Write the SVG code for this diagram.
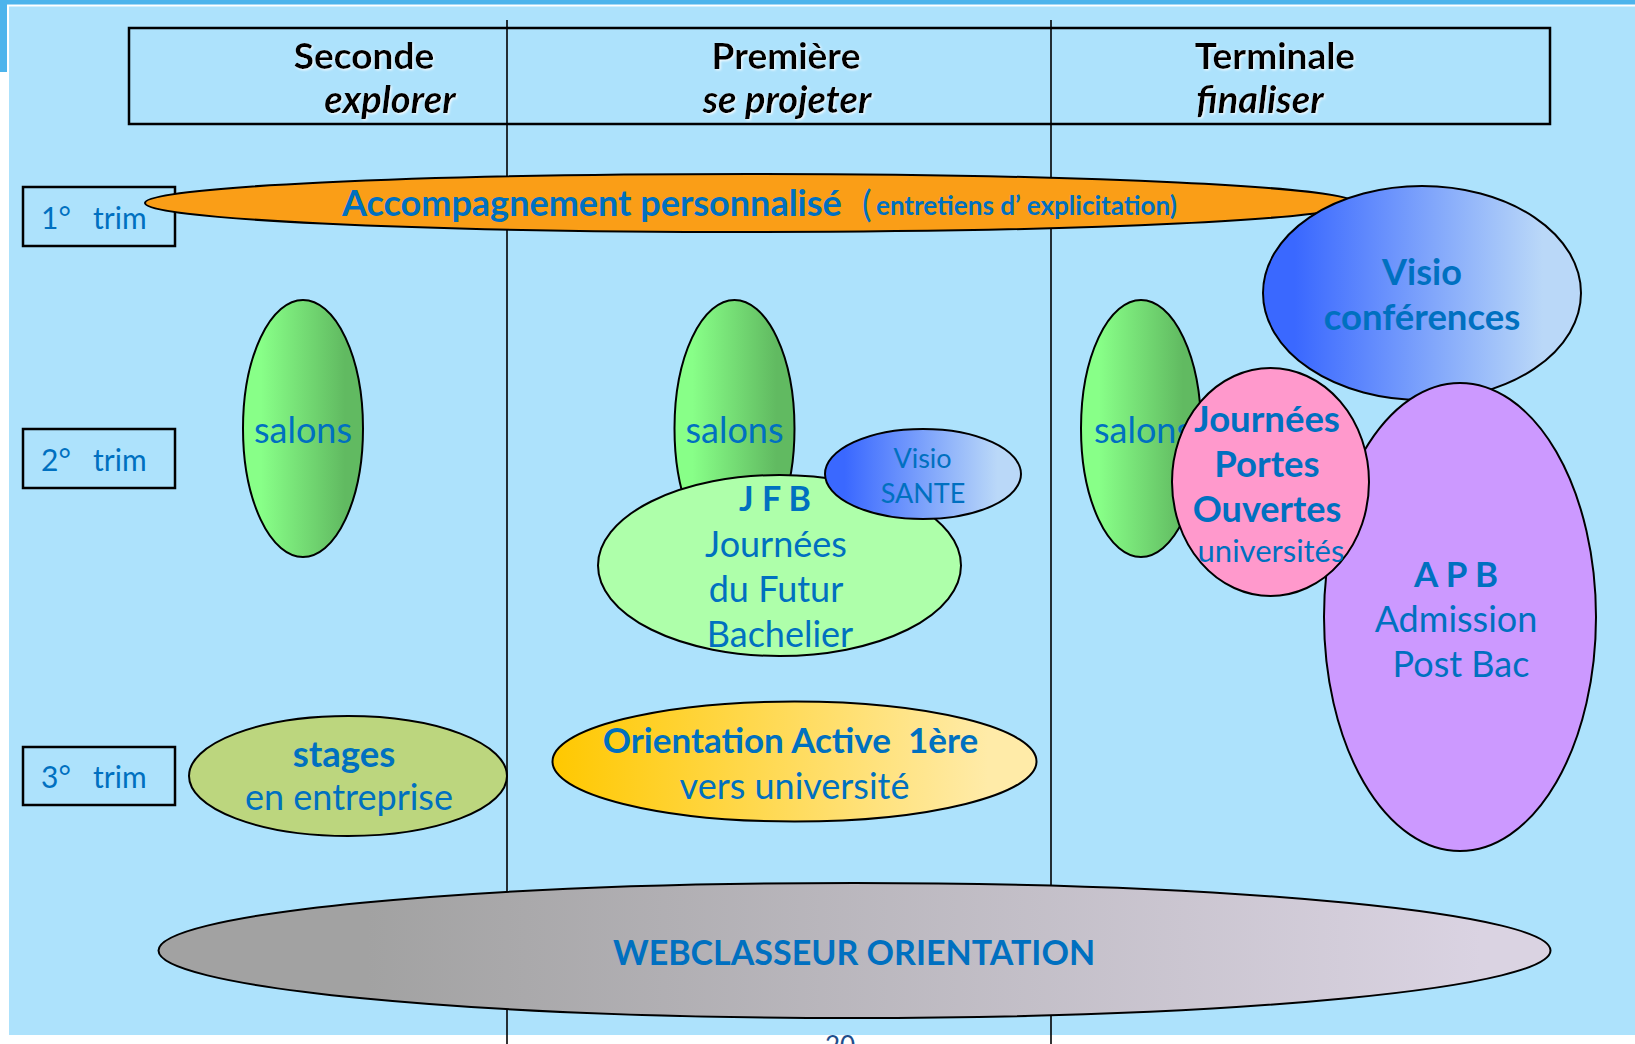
<svg xmlns="http://www.w3.org/2000/svg" width="1635" height="1044" viewBox="0 0 1635 1044">
  <defs>
    <linearGradient id="gSalon" x1="0" y1="0" x2="1" y2="0">
      <stop offset="0.15" stop-color="#88FF88"/>
      <stop offset="0.85" stop-color="#61BA61"/>
    </linearGradient>
    <linearGradient id="gVisio" x1="0" y1="0" x2="1" y2="0">
      <stop offset="0.1" stop-color="#3A68FF"/>
      <stop offset="0.88" stop-color="#BAD8F8"/>
    </linearGradient>
    <linearGradient id="gOrient" x1="0" y1="0" x2="1" y2="0">
      <stop offset="0" stop-color="#FFC800"/>
      <stop offset="0.9" stop-color="#FFEBA8"/>
    </linearGradient>
    <linearGradient id="gWeb" x1="0" y1="0" x2="1" y2="0">
      <stop offset="0.15" stop-color="#A2A2A2"/>
      <stop offset="0.95" stop-color="#DAD3E2"/>
    </linearGradient>
    <filter id="glow" x="-10%" y="-20%" width="120%" height="140%">
      <feDropShadow dx="1.2" dy="1.2" stdDeviation="0.8" flood-color="#FFFFFF" flood-opacity="0.9"/>
    </filter>
  </defs>
  <style>
    text { font-family: Lato, "Open Sans", "Liberation Sans", sans-serif; }
    .hd { font-weight: bold; font-size: 37px; fill: #000; text-anchor: middle; }
    .hdi { font-weight: bold; font-style: italic; font-size: 38px; fill: #000; text-anchor: middle; }
    .bl { fill: #0070C0; text-anchor: middle; }
    .b { font-weight: bold; }
    .trim { fill: #0070C0; font-size: 30px; }
    .box { fill: none; stroke: #000; stroke-width: 2.5; }
    .ell { stroke: #000; stroke-width: 2; }
    .grid { stroke: #000; stroke-width: 1.6; }
    .pre { white-space: pre; }
  </style>

  <g id="background">
    <rect x="0" y="0" width="1635" height="1044" fill="#FFFFFF"/>
    <rect x="0" y="0" width="1635" height="4.5" fill="#4DB4EC"/>
    <rect x="0" y="0" width="7" height="72" fill="#4DB4EC"/>
    <rect x="9" y="6.5" width="1626" height="1028.5" fill="#ADE2FC"/>
  </g>

  <g id="grid-lines">
    <line class="grid" x1="507" y1="20" x2="507" y2="1044"/>
    <line class="grid" x1="1051" y1="20" x2="1051" y2="1044"/>
  </g>

  <g id="header">
    <rect class="box" x="129" y="28" width="1421" height="96"/>
    <g filter="url(#glow)">
      <text class="hd" x="364" y="69">Seconde</text>
      <text class="hdi" x="390" y="113">explorer</text>
      <text class="hd" x="786" y="69">Première</text>
      <text class="hdi" x="787" y="113">se projeter</text>
      <text class="hd" x="1275" y="69">Terminale</text>
      <text class="hdi" x="1260" y="113">finaliser</text>
    </g>
  </g>

  <g id="trim1">
    <rect class="box" x="23" y="187" width="152" height="59"/>
    <text class="trim" y="229"><tspan x="41">1°</tspan> <tspan x="93">trim</tspan></text>
  </g>
  <g id="trim2">
    <rect class="box" x="23" y="429" width="152" height="59"/>
    <text class="trim" y="471"><tspan x="41">2°</tspan> <tspan x="93">trim</tspan></text>
  </g>
  <g id="trim3">
    <rect class="box" x="23" y="747" width="152" height="58"/>
    <text class="trim" y="788"><tspan x="41">3°</tspan> <tspan x="93">trim</tspan></text>
  </g>

  <g id="accompagnement">
    <ellipse class="ell" cx="750" cy="203" rx="605" ry="29" fill="#FA9E17"/>
    <text x="342" y="216" fill="#0070C0" font-weight="bold" font-size="36">Accompagnement personnalisé</text>
    <text x="862" y="217" fill="#0070C0" font-size="36">(</text>
    <text x="876" y="215" fill="#0070C0" font-weight="bold" font-size="26">entretiens d’ explicitation)</text>
  </g>

  <g id="salons-seconde">
    <ellipse class="ell" cx="303" cy="428.5" rx="60" ry="128.5" fill="url(#gSalon)"/>
    <text class="bl" x="303" y="443" font-size="36">salons</text>
  </g>

  <g id="salons-premiere">
    <ellipse class="ell" cx="734.5" cy="428.5" rx="60" ry="128.5" fill="url(#gSalon)"/>
    <text class="bl" x="734.5" y="443" font-size="36">salons</text>
  </g>

  <g id="jfb">
    <ellipse class="ell" cx="779.5" cy="565.5" rx="181.5" ry="90.5" fill="#AEFFAA"/>
    <text class="bl b" x="775" y="511" font-size="34">J F B</text>
    <text class="bl" x="776" y="556.5" font-size="36">Journées</text>
    <text class="bl" x="776" y="601.5" font-size="36">du Futur</text>
    <text class="bl" x="780" y="646.5" font-size="36">Bachelier</text>
  </g>

  <g id="visio-sante">
    <ellipse class="ell" cx="923" cy="474" rx="98" ry="45" fill="url(#gVisio)"/>
    <text class="bl" x="922.5" y="468" font-size="27">Visio</text>
    <text class="bl" x="923" y="503" font-size="27">SANTE</text>
  </g>

  <g id="stages">
    <ellipse class="ell" cx="348" cy="776" rx="159" ry="60" fill="#BCD67E"/>
    <text class="bl b" x="344" y="766.5" font-size="36.5">stages</text>
    <text class="bl" x="349" y="809.5" font-size="36">en entreprise</text>
  </g>

  <g id="orientation-active">
    <ellipse class="ell" cx="794.5" cy="761.5" rx="242" ry="60" fill="url(#gOrient)"/>
    <text class="bl b pre" x="790.5" y="753" font-size="35">Orientation Active  1ère</text>
    <text class="bl" x="794.5" y="798.5" font-size="36">vers université</text>
  </g>

  <g id="salons-terminale">
    <ellipse class="ell" cx="1141" cy="428.5" rx="60" ry="128.5" fill="url(#gSalon)"/>
    <text class="bl" x="1143" y="443" font-size="36">salons</text>
  </g>

  <g id="visio-conferences">
    <ellipse class="ell" cx="1422" cy="293" rx="159" ry="107" fill="url(#gVisio)"/>
    <text class="bl b" x="1422" y="284.5" font-size="36">Visio</text>
    <text class="bl b" x="1422" y="329.5" font-size="36.5">conférences</text>
  </g>

  <g id="apb">
    <ellipse class="ell" cx="1460" cy="617" rx="136" ry="234" fill="#CC99FF"/>
    <text class="bl b" x="1456" y="586.5" font-size="35">A P B</text>
    <text class="bl" x="1456" y="631.5" font-size="36">Admission</text>
    <text class="bl" x="1461" y="676.5" font-size="36">Post Bac</text>
  </g>

  <g id="jpo">
    <ellipse class="ell" cx="1270.5" cy="482" rx="98.5" ry="114" fill="#FF99CC"/>
    <text class="bl b" x="1267" y="431.5" font-size="36.5">Journées</text>
    <text class="bl b" x="1267" y="476.5" font-size="36.5">Portes</text>
    <text class="bl b" x="1267" y="521.5" font-size="36">Ouvertes</text>
    <text class="bl" x="1271" y="561.5" font-size="31">universités</text>
  </g>

  <g id="webclasseur">
    <ellipse class="ell" cx="854.5" cy="950.5" rx="696" ry="67.5" fill="url(#gWeb)"/>
    <text class="bl b" x="854" y="965" font-size="34">WEBCLASSEUR ORIENTATION</text>
  </g>

  <g id="connectors"/>

  <text x="840" y="1055" fill="#1F4E8C" font-size="26" text-anchor="middle">20</text>
</svg>
